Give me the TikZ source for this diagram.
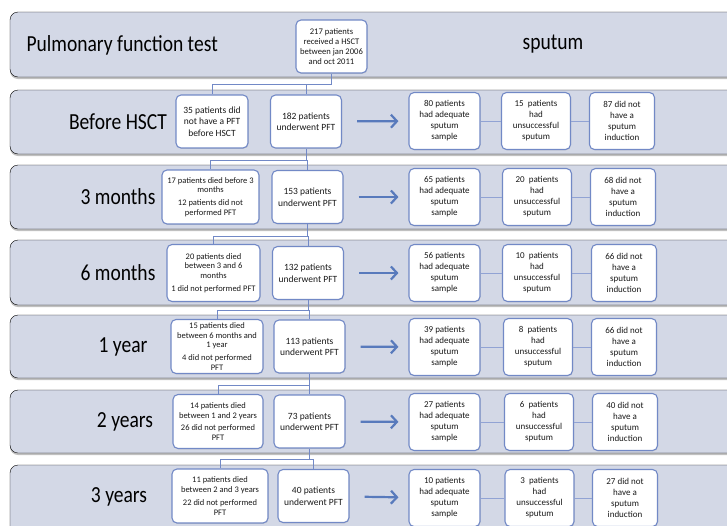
\documentclass[tikz,border=0pt]{standalone}
\usepackage{fontspec}
\setmainfont{Carlito}
\newfontfamily\labelfont{Carlito}[FakeStretch=0.85]
\usepackage{tikz}
\usetikzlibrary{arrows.meta,shadows}
\definecolor{bandfill}{RGB}{211,216,230}
\definecolor{boxline}{RGB}{114,137,198}
\definecolor{thinline}{RGB}{145,163,212}
\definecolor{arrowblue}{RGB}{88,122,188}

\begin{document}
\begin{tikzpicture}[x=1pt,y=-1pt,
  every text node part/.style={align=center},
  band/.style={fill=bandfill,rounded corners=8pt,drop shadow={shadow xshift=0pt,shadow yshift=-2pt,fill=black!35,opacity=0.7}},
  rowlabel/.style={font=\labelfont\fontsize{23}{26}\selectfont},
  box/.style={draw=boxline,line width=1.1pt,fill=white,rounded corners=5pt,inner sep=1pt,text=black!90,
    drop shadow={shadow xshift=0.5pt,shadow yshift=-0.8pt,fill=black!30,opacity=0.5}},
  pftbox/.style={box,minimum width=71pt,minimum height=53pt,font=\fontsize{9.5}{11.5}\selectfont},
  lostbox/.style={box,minimum height=54pt,font=\fontsize{8.5}{9.8}\selectfont},
  spbox/.style={box,minimum height=57pt,font=\fontsize{9}{11}\selectfont},
  spa/.style={spbox,minimum width=71pt},
  spb/.style={spbox,minimum width=69pt},
  spc/.style={spbox,minimum width=65pt},
  link/.style={draw=boxline,line width=0.8pt},
  splink/.style={draw=thinline,line width=0.8pt},
  flow/.style={draw=arrowblue,line width=2.2pt,-{Straight Barb[length=6pt,width=13pt]},shorten <=15pt,shorten >=10pt}]
  \clip (0,0) rectangle (727,525);
  \fill[white] (0,0) rectangle (727,525);

  \draw[band] (10,12) rectangle (780,77);
  \draw[band] (10,90) rectangle (780,154);
  \draw[band] (10,165) rectangle (780,229);
  \draw[band] (10,240) rectangle (780,305);
  \draw[band] (10,315) rectangle (780,378);
  \draw[band] (10,390) rectangle (780,453);
  \draw[band] (10,465) rectangle (780,545);

  % header row
  \node[rowlabel,anchor=west] (pfttitle) at (23,45) {Pulmonary function test};
  \node[rowlabel] (sputtitle) at (553,44) {sputum};
  \node[pftbox,font=\fontsize{8.6}{10}\selectfont] (hsct) at (331.5,46.5) {217 patients\\received a HSCT\\between jan 2006\\and oct 2011};

  % before HSCT
  \node[rowlabel] (lbl2) at (118,122) {Before HSCT};
  \node[lostbox,minimum width=72pt,minimum height=53pt,font=\fontsize{9.5}{11.5}\selectfont] (lost2) at (212,121.5) {35 patients did\\not have a PFT\\before HSCT};
  \node[pftbox] (pft2) at (306,121.5) {182 patients\\underwent PFT};
  \node[spa] (spa2) at (444.5,121) {80 patients\\had adequate\\sputum\\sample};
  \node[spb] (spb2) at (536,121) {15~ patients\\had\\unsuccessful\\sputum};
  \node[spc] (spc2) at (622,121) {87 did not\\have a\\sputum\\induction};

  % 3 months
  \node[rowlabel] (lbl3) at (118,197) {3 months};
  \node[lostbox,minimum width=97pt] (lost3) at (210.5,197) {17 patients died before 3\\months\\[3pt]12 patients did not\\performed PFT};
  \node[pftbox] (pft3) at (307.5,197) {153 patients\\underwent PFT};
  \node[spa] (spa3) at (444.5,197) {65 patients\\had adequate\\sputum\\sample};
  \node[spb] (spb3) at (537,197) {20~ patients\\had\\unsuccessful\\sputum};
  \node[spc] (spc3) at (623,197) {68 did not\\have a\\sputum\\induction};

  % 6 months
  \node[rowlabel] (lbl4) at (118,272.5) {6 months};
  \node[lostbox,minimum width=93pt,minimum height=57pt] (lost4) at (213.5,273) {20 patients died\\between 3 and 6\\months\\[3pt]1 did not performed PFT};
  \node[pftbox] (pft4) at (308,273) {132 patients\\underwent PFT};
  \node[spa] (spa4) at (444.5,273) {56 patients\\had adequate\\sputum\\sample};
  \node[spb] (spb4) at (537,273) {10~ patients\\had\\unsuccessful\\sputum};
  \node[spc] (spc4) at (624,273) {66 did not\\have a\\sputum\\induction};

  % 1 year
  \node[rowlabel] (lbl5) at (123,347) {1 year};
  \node[lostbox,minimum width=92pt] (lost5) at (217,346.5) {15 patients died\\between 6 months and\\1 year\\[3pt]4 did not performed\\PFT};
  \node[pftbox] (pft5) at (309.5,346.5) {113 patients\\underwent PFT};
  \node[spa] (spa5) at (444.5,347) {39 patients\\had adequate\\sputum\\sample};
  \node[spb] (spb5) at (538,347) {8~ patients\\had\\unsuccessful\\sputum};
  \node[spc] (spc5) at (624,347) {66 did not\\have a\\sputum\\induction};

  % 2 years
  \node[rowlabel] (lbl6) at (125,422) {2 years};
  \node[lostbox,minimum width=90pt] (lost6) at (218,421.5) {14 patients died\\between 1 and 2 years\\[3pt]26 did not performed\\PFT};
  \node[pftbox] (pft6) at (309.5,421.5) {73 patients\\underwent PFT};
  \node[spa] (spa6) at (444.5,422) {27 patients\\had adequate\\sputum\\sample};
  \node[spb] (spb6) at (539,422) {6~ patients\\had\\unsuccessful\\sputum};
  \node[spc] (spc6) at (625,422) {40 did not\\have a\\sputum\\induction};

  % 3 years
  \node[rowlabel] (lbl7) at (119,497) {3 years};
  \node[lostbox,minimum width=96pt] (lost7) at (220,496) {11 patients died\\between 2 and 3 years\\[3pt]22 did not performed\\PFT};
  \node[pftbox] (pft7) at (313.5,496) {40 patients\\underwent PFT};
  \node[spa] (spa7) at (444.5,498) {10 patients\\had adequate\\sputum\\sample};
  \node[spb] (spb7) at (539.5,498) {3~ patients\\had\\unsuccessful\\sputum};
  \node[spc] (spc7) at (625,498) {27 did not\\have a\\sputum\\induction};

  % tree on the left
  \draw[link] (hsct.south) -- ++(0,11) coordinate (j1) -| (lost2.north);
  \draw[link] (j1) -| (pft2.north);
  \draw[link] (pft2.south) -- ++(0,12) coordinate (j2) -| (lost3.north);
  \draw[link] (j2) -| (pft3.north);
  \draw[link] (pft3.south) -- ++(0,12) coordinate (j3) -| (lost4.north);
  \draw[link] (j3) -| (pft4.north);
  \draw[link] (pft4.south) -- ++(0,10) coordinate (j4) -| (lost5.north);
  \draw[link] (j4) -| (pft5.north);
  \draw[link] (pft5.south) -- ++(0,12) coordinate (j5) -| (lost6.north);
  \draw[link] (j5) -| (pft6.north);
  \draw[link] (pft6.south) -- ++(0,11) coordinate (j6) -| (lost7.north);
  \draw[link] (j6) -| (pft7.north);

  % arrows to sputum
  \draw[flow] (pft2) -- (spa2);
  \draw[flow] (pft3) -- (spa3);
  \draw[flow] (pft4) -- (spa4);
  \draw[flow] (pft5) -- (spa5);
  \draw[flow] (pft6) -- (spa6);
  \draw[flow] (pft7) -- (spa7);

  % sputum links
  \draw[splink] (spa2) -- (spb2); \draw[splink] (spb2) -- (spc2);
  \draw[splink] (spa3) -- (spb3); \draw[splink] (spb3) -- (spc3);
  \draw[splink] (spa4) -- (spb4); \draw[splink] (spb4) -- (spc4);
  \draw[splink] (spa5) -- (spb5); \draw[splink] (spb5) -- (spc5);
  \draw[splink] (spa6) -- (spb6); \draw[splink] (spb6) -- (spc6);
  \draw[splink] (spa7) -- (spb7); \draw[splink] (spb7) -- (spc7);
\end{tikzpicture}
\end{document}
